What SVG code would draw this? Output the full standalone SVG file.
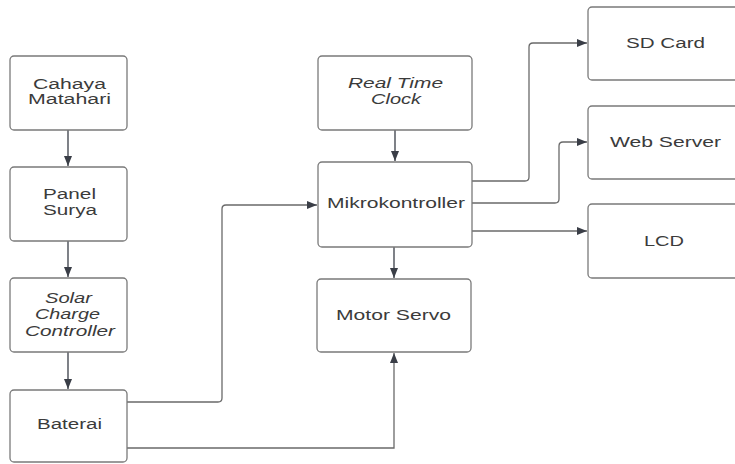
<svg xmlns="http://www.w3.org/2000/svg" width="735" height="464" viewBox="0 0 735 464">
  <defs>
    <marker id="arrow" viewBox="0 0 10 8" refX="10" refY="4" markerWidth="10" markerHeight="8" markerUnits="userSpaceOnUse" orient="auto">
      <path d="M0,0 L10,4 L0,8 z" fill="#3a3e47"/>
    </marker>
  </defs>
  <style>
    .box { fill: #ffffff; stroke: #7a7a7a; stroke-width: 1.3; }
    .lbl { font-family: "Liberation Sans", Arial, sans-serif; font-size: 14px; fill: #3b3b3b; }
    .it { font-style: italic; }
    .wire { fill: none; stroke: #6a6a6a; stroke-width: 1.3; }
    .drop { fill: none; stroke: #3a3e47; stroke-width: 1.3; }
  </style>
  <rect width="735" height="464" fill="#ffffff"/>

  <!-- connectors -->
  <g id="connectors">
    <path class="drop" d="M68,130 V166" marker-end="url(#arrow)"/>
    <path class="drop" d="M68,241 V277" marker-end="url(#arrow)"/>
    <path class="drop" d="M68,352 V389" marker-end="url(#arrow)"/>
    <path class="drop" d="M395,130 V161" marker-end="url(#arrow)"/>
    <path class="drop" d="M394,247 V278" marker-end="url(#arrow)"/>
    <path class="wire" d="M127,402 H218 Q222,402 222,398 V209 Q222,205 226,205 H317" marker-end="url(#arrow)"/>
    <path class="wire" d="M127,448 H394 V353" marker-end="url(#arrow)"/>
    <path class="wire" d="M472,181 H525 Q529,181 529,177 V47 Q529,43 533,43 H587" marker-end="url(#arrow)"/>
    <path class="wire" d="M472,203 H555 Q559,203 559,199 V146 Q559,142 563,142 H587" marker-end="url(#arrow)"/>
    <path class="wire" d="M472,231 H587" marker-end="url(#arrow)"/>
  </g>

  <g id="cahaya-matahari">
    <rect class="box" x="10" y="56" width="117" height="74" rx="4"/>
    <text class="lbl" x="33" y="89" textLength="73" lengthAdjust="spacingAndGlyphs">Cahaya</text>
    <text class="lbl" x="28" y="104" textLength="83" lengthAdjust="spacingAndGlyphs">Matahari</text>
  </g>

  <g id="panel-surya">
    <rect class="box" x="10" y="167" width="117" height="74" rx="4"/>
    <text class="lbl" x="43" y="199" textLength="53" lengthAdjust="spacingAndGlyphs">Panel</text>
    <text class="lbl" x="43" y="215" textLength="54" lengthAdjust="spacingAndGlyphs">Surya</text>
  </g>

  <g id="solar-charge-controller">
    <rect class="box" x="10" y="278" width="117" height="74" rx="4"/>
    <text class="lbl it" x="45" y="303" textLength="47" lengthAdjust="spacingAndGlyphs">Solar</text>
    <text class="lbl it" x="35" y="319" textLength="65" lengthAdjust="spacingAndGlyphs">Charge</text>
    <text class="lbl it" x="25" y="336" textLength="90" lengthAdjust="spacingAndGlyphs">Controller</text>
  </g>

  <g id="baterai">
    <rect class="box" x="10" y="390" width="117" height="72" rx="4"/>
    <text class="lbl" x="37" y="429" textLength="65" lengthAdjust="spacingAndGlyphs">Baterai</text>
  </g>

  <g id="real-time-clock">
    <rect class="box" x="318" y="56" width="154" height="74" rx="4"/>
    <text class="lbl it" x="348" y="88" textLength="95" lengthAdjust="spacingAndGlyphs">Real Time</text>
    <text class="lbl it" x="371" y="104" textLength="50" lengthAdjust="spacingAndGlyphs">Clock</text>
  </g>

  <g id="mikrokontroller">
    <rect class="box" x="318" y="162" width="154" height="85" rx="4"/>
    <text class="lbl" x="327" y="208" textLength="138" lengthAdjust="spacingAndGlyphs">Mikrokontroller</text>
  </g>

  <g id="motor-servo">
    <rect class="box" x="317" y="279" width="154" height="73" rx="4"/>
    <text class="lbl" x="336" y="320" textLength="115" lengthAdjust="spacingAndGlyphs">Motor Servo</text>
  </g>

  <g id="sd-card">
    <rect class="box" x="588" y="7" width="156" height="73" rx="4"/>
    <text class="lbl" x="626" y="48" textLength="79" lengthAdjust="spacingAndGlyphs">SD Card</text>
  </g>

  <g id="web-server">
    <rect class="box" x="588" y="106" width="156" height="73" rx="4"/>
    <text class="lbl" x="610" y="147" textLength="111" lengthAdjust="spacingAndGlyphs">Web Server</text>
  </g>

  <g id="lcd">
    <rect class="box" x="588" y="204" width="156" height="74" rx="4"/>
    <text class="lbl" x="644" y="246" textLength="40" lengthAdjust="spacingAndGlyphs">LCD</text>
  </g>
</svg>
